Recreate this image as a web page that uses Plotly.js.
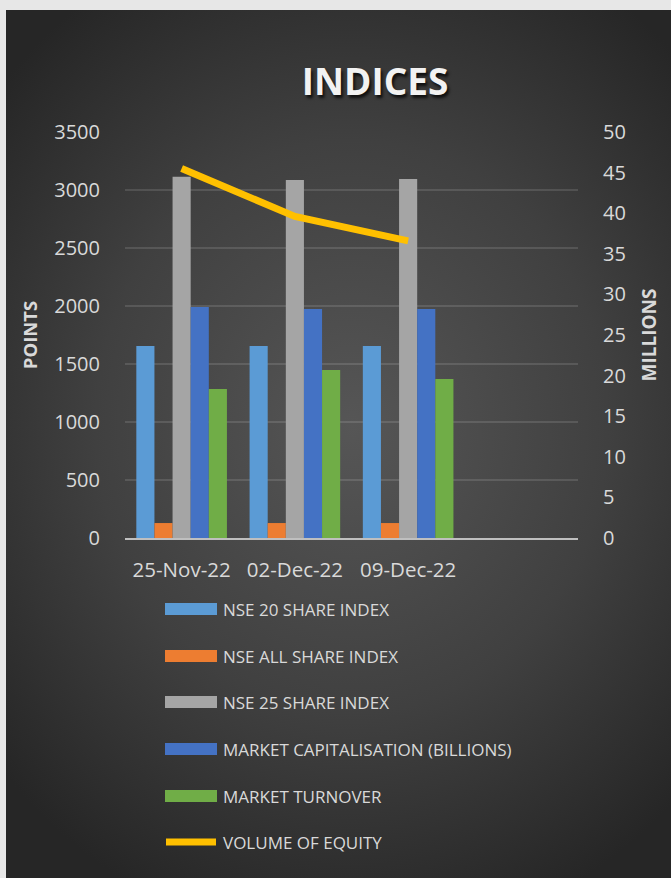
<!DOCTYPE html>
<html>
<head>
<meta charset="utf-8">
<script src="https://cdn.plot.ly/plotly-3.0.1.min.js"></script>
<style>
  html, body { margin:0; padding:0; width:671px; height:878px; background:#e7e7e7; overflow:hidden; }
  #panel { position:absolute; left:6px; top:10px; width:665px; height:868px;
    background: radial-gradient(ellipse 70% 60% at 52% 48%, #565656 0%, #404040 55%, #262626 100%); }
  #chart { position:absolute; left:0; top:0; width:671px; height:878px; }
</style>
</head>
<body>
<div id="panel"></div>
<div id="chart"></div>
<script>
// ---- data ----
const categories = ['25-Nov-22', '02-Dec-22', '09-Dec-22'];
const nse20 = [1655, 1655, 1655];
const nseAllShare = [129, 129, 129];
const nse25 = [3115, 3086, 3095];
const marketCap = [1991, 1974, 1974];
const marketTurnover = [1284, 1448, 1371];
const volumeEquity = [45.5, 39.6, 36.6];
const seriesNames = ['NSE 20 SHARE INDEX', 'NSE ALL SHARE INDEX', 'NSE 25 SHARE INDEX',
  'MARKET CAPITALISATION (BILLIONS)', 'MARKET TURNOVER', 'VOLUME OF EQUITY'];
const leftTicks = [0, 500, 1000, 1500, 2000, 2500, 3000, 3500];
const rightTicks = [0, 5, 10, 15, 20, 25, 30, 35, 40, 45, 50];

// ---- styling ----
const colors = ['#5B9BD5', '#ED7D31', '#A5A5A5', '#4472C4', '#70AD47', '#FFC000'];
const FONT = '"Open Sans", "DejaVu Sans", sans-serif';
const textCol = '#d9d9d9';

// pixel layout
const W = 671, H = 878;
const L = 125, R = 578, T = 132, B = 538;
const px2x = p => (p - L) / (R - L);
const px2y = p => (B - p) / (B - T);

const barSeries = [nse20, nseAllShare, nse25, marketCap, marketTurnover];
const traces = barSeries.map((vals, i) => ({
  type: 'bar', x: categories, y: vals, name: seriesNames[i],
  marker: { color: colors[i], line: { width: 0 } }, showlegend: false, hoverinfo: 'y'
}));
traces.push({
  type: 'scatter', mode: 'lines', x: categories, y: volumeEquity, yaxis: 'y2',
  name: seriesNames[5], line: { color: colors[5], width: 7, shape: 'linear' },
  showlegend: false
});

// custom legend
const legendRows = [609, 656, 702, 749, 796, 842];
const shapes = [];
const annotations = [];
seriesNames.forEach((nm, i) => {
  const yc = legendRows[i];
  if (i < 5) {
    shapes.push({ type: 'rect', xref: 'paper', yref: 'paper',
      x0: px2x(165), x1: px2x(217), y0: px2y(yc - 6), y1: px2y(yc + 6),
      fillcolor: colors[i], line: { width: 0 } });
  } else {
    shapes.push({ type: 'line', xref: 'paper', yref: 'paper',
      x0: px2x(166), x1: px2x(216), y0: px2y(yc), y1: px2y(yc),
      line: { color: colors[i], width: 7 } });
  }
  annotations.push({ xref: 'paper', yref: 'paper', x: px2x(221), y: px2y(yc),
    xanchor: 'left', yanchor: 'middle', showarrow: false, text: nm,
    font: { family: FONT, size: 17, color: textCol } });
});

const layout = {
  width: W, height: H,
  paper_bgcolor: 'rgba(0,0,0,0)', plot_bgcolor: 'rgba(0,0,0,0)',
  margin: { l: L, r: W - R, t: T, b: H - B, pad: 0 },
  title: { text: 'INDICES', x: 375 / W, xanchor: 'center', y: 1 - 82 / H, yanchor: 'middle',
    font: { family: FONT, size: 37, weight: 700, color: '#f2f2f2', shadow: '2px 3px 3px rgba(0,0,0,0.75)' } },
  barmode: 'group', bargap: 0.2, bargroupgap: 0,
  showlegend: false,
  xaxis: { type: 'category', range: [-0.5, 3.5], categoryarray: categories,
    showgrid: false, showline: true, linecolor: '#bfbfbf', linewidth: 2,
    ticks: 'outside', ticklen: 12, tickcolor: 'rgba(0,0,0,0)',
    tickfont: { family: FONT, size: 20.5, color: textCol }, fixedrange: true },
  yaxis: { range: [0, 3500], tickvals: leftTicks, ticktext: leftTicks.map(String),
    showgrid: true, gridcolor: 'rgba(255,255,255,0.12)', gridwidth: 2, zeroline: false,
    ticks: 'outside', ticklen: 20, tickcolor: 'rgba(0,0,0,0)',
    tickfont: { family: FONT, size: 20, color: textCol },
    title: { text: 'POINTS', standoff: 11, font: { family: FONT, size: 18.5, weight: 700, color: textCol } } },
  yaxis2: { range: [0, 50], tickvals: rightTicks, ticktext: rightTicks.map(String),
    overlaying: 'y', side: 'right', showgrid: false, zeroline: false,
    ticks: 'outside', ticklen: 20, tickcolor: 'rgba(0,0,0,0)',
    tickfont: { family: FONT, size: 20, color: textCol },
    title: { text: 'MILLIONS', standoff: 17, font: { family: FONT, size: 19, weight: 700, color: textCol } } },
  shapes: shapes,
  annotations: annotations
};

Plotly.newPlot('chart', traces, layout, { displayModeBar: false, staticPlot: true });
</script>
</body>
</html>
